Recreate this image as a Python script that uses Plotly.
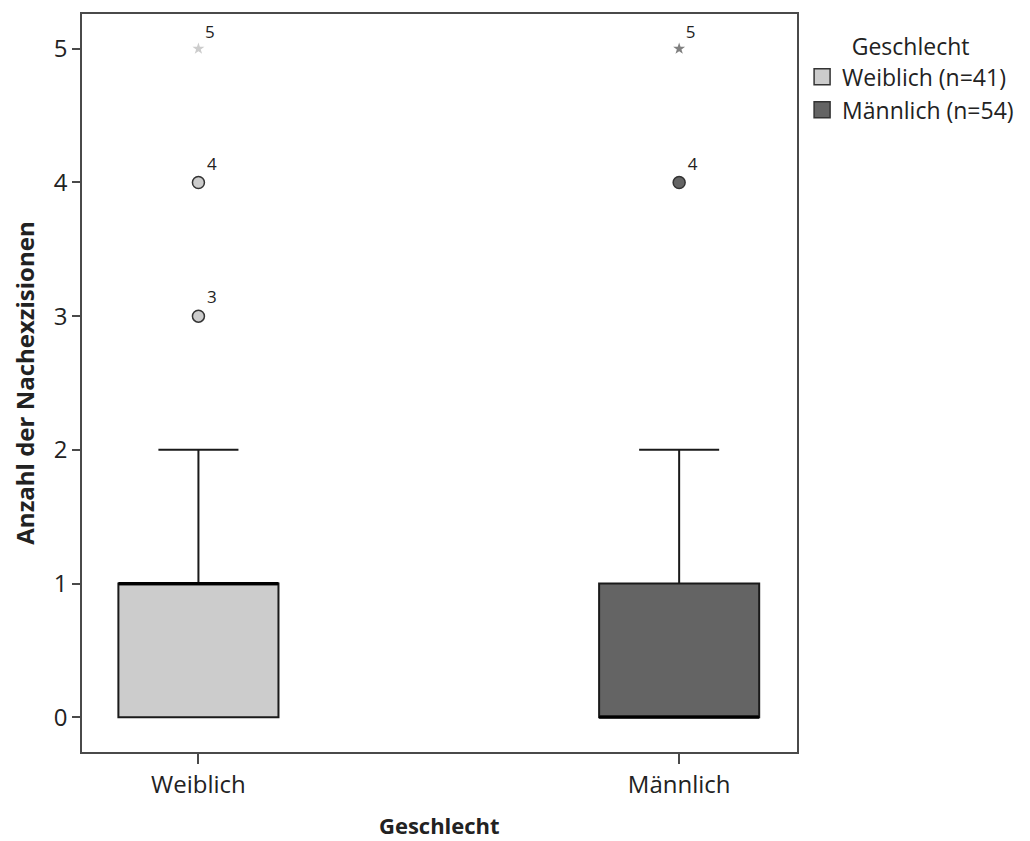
import plotly.graph_objects as go

categories = ["Weiblich", "Männlich"]
legend_names = ["Weiblich (n=41)", "Männlich (n=54)"]
positions = [0, 1]
q1 = [0, 0]
median = [1, 0]
q3 = [1, 1]
lower = [0, 0]
upper = [2, 2]
fills = ["#cccccc", "#646464"]
star_colors = ["#cccccc", "#808080"]

# outliers: (value, label)
circle_y = [[3, 4], [4]]
circle_lbl = [["3", "4"], ["4"]]
star_y = [[5], [5]]
star_lbl = [["5"], ["5"]]

box_w = 0.333
FONT = "Open Sans"

fig = go.Figure()
for i, cat in enumerate(categories):
    fig.add_trace(go.Box(
        x=[positions[i]], q1=[q1[i]], median=[median[i]], q3=[q3[i]],
        lowerfence=[lower[i]], upperfence=[upper[i]],
        width=box_w, whiskerwidth=0.5,
        fillcolor=fills[i], line=dict(color="#1a1a1a", width=2),
        name=legend_names[i], boxpoints=False, hoverinfo="skip", showlegend=False,
    ))
    # thick median line
    fig.add_trace(go.Scatter(
        x=[positions[i] - box_w / 2, positions[i] + box_w / 2],
        y=[median[i], median[i]], mode="lines",
        line=dict(color="#000000", width=3), showlegend=False, hoverinfo="skip",
    ))
    fig.add_trace(go.Scatter(
        x=[positions[i]] * len(circle_y[i]), y=circle_y[i], mode="markers+text",
        text=circle_lbl[i], textposition="top right",
        textfont=dict(family=FONT, size=17, color="#222"),
        marker=dict(symbol="circle", size=12, color=fills[i],
                    line=dict(color="#333333", width=1.5)),
        showlegend=False, hoverinfo="skip",
    ))
    fig.add_trace(go.Scatter(
        x=[positions[i]] * len(star_y[i]), y=star_y[i], mode="markers+text",
        text=star_lbl[i], textposition="top right",
        textfont=dict(family=FONT, size=17, color="#222"),
        marker=dict(symbol="star", size=9, color=star_colors[i], line=dict(width=0)),
        showlegend=False, hoverinfo="skip",
    ))
    # legend entry
    fig.add_trace(go.Scatter(
        x=[None], y=[None], mode="markers", name=legend_names[i],
        marker=dict(symbol="square", size=22, color=fills[i],
                    line=dict(color="#333333", width=1.5)),
        showlegend=True, hoverinfo="skip",
    ))

fig.update_layout(
    width=1022, height=833,
    margin=dict(l=72, r=232, t=4, b=89),
    paper_bgcolor="white", plot_bgcolor="white",
    font=dict(family=FONT, size=24, color="#222"),
    showlegend=True,
    legend=dict(
        xref="container", yref="container",
        x=0.777, y=0.979, xanchor="left", yanchor="top",
        title=dict(text="Geschlecht", side="top center", font=dict(size=23)),
        font=dict(size=23), itemwidth=30, tracegroupgap=0,
        itemsizing="trace", bgcolor="rgba(0,0,0,0)",
    ),
    xaxis=dict(
        range=[-0.2422, 1.2443], tickvals=positions, ticktext=categories,
        showgrid=False, zeroline=False, showline=True, mirror=True,
        linecolor="#4a4a4a", linewidth=1.5, ticks="outside", ticklen=10,
        tickcolor="#4a4a4a", tickwidth=1.5, tickfont=dict(size=24),
        title=dict(text="<b>Geschlecht</b>", font=dict(size=22), standoff=20),
    ),
    yaxis=dict(
        range=[-0.26, 5.26], tickvals=[0, 1, 2, 3, 4, 5],
        showgrid=False, zeroline=False, showline=True, mirror=True,
        linecolor="#4a4a4a", linewidth=1.5, ticks="outside", ticklen=8,
        tickcolor="#4a4a4a", tickwidth=1.5, tickfont=dict(size=24),
        title=dict(text="<b>Anzahl der Nachexzisionen</b>", font=dict(size=24), standoff=25),
    ),
)

fig.write_html("out.html")
